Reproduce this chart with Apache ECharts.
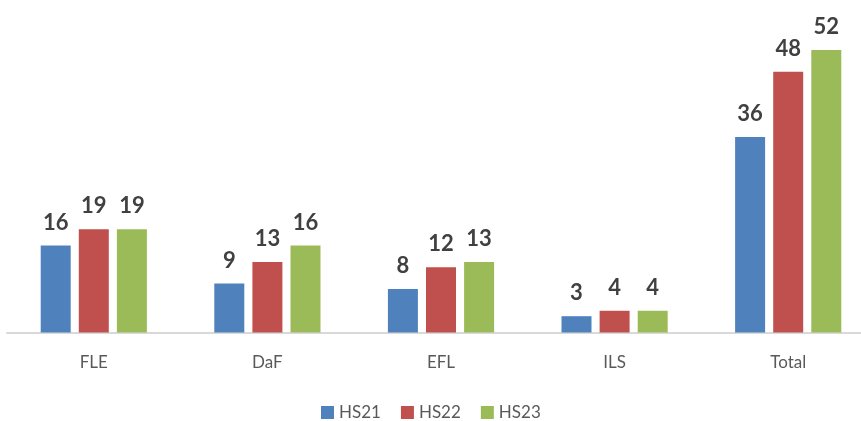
<!DOCTYPE html>
<html>
<head>
<meta charset="utf-8">
<script src="https://cdn.jsdelivr.net/npm/echarts@6/dist/echarts.min.js"></script>
<style>html,body{margin:0;padding:0;background:#fff}#c{width:861px;height:421px}</style>
</head>
<body>
<div id="c"></div>
<script>
const categories = ['FLE', 'DaF', 'EFL', 'ILS', 'Total'];
const seriesNames = ['HS21', 'HS22', 'HS23'];
const hs21 = [16, 9, 8, 3, 36];
const hs22 = [19, 13, 12, 4, 48];
const hs23 = [19, 16, 13, 4, 52];
const colors = ['#4f81bd', '#c0504d', '#9bbb59'];

const chart = echarts.init(document.getElementById('c'));
const dataSets = [hs21, hs22, hs23];
chart.setOption({
  animation: false,
  textStyle: { fontFamily: 'Lato' },
  grid: { left: 7, width: 868, top: 50, height: 282.5, containLabel: false, outerBoundsMode: 'none' },
  legend: {
    left: 316, top: 399,
    itemWidth: 13, itemHeight: 13, itemGap: 20,
    icon: 'rect',
    textStyle: { fontSize: 17, color: '#595959', fontFamily: 'Lato' },
    data: seriesNames
  },
  xAxis: {
    type: 'category', data: categories,
    axisLine: { lineStyle: { color: '#d9d9d9', width: 2 } },
    axisTick: { show: false },
    axisLabel: { fontSize: 17, color: '#595959', margin: 22, fontFamily: 'Lato' }
  },
  yAxis: { type: 'value', min: 0, max: 52, show: false, splitLine: { show: false } },
  series: dataSets.map((d, i) => ({
    name: seriesNames[i], type: 'bar', data: d,
    barWidth: 30, barGap: '27%',
    itemStyle: { color: colors[i] },
    label: { show: true, position: 'top', distance: 12, fontSize: 22, fontWeight: 'bold', color: '#404040', fontFamily: 'Lato' }
  }))
});
</script>
</body>
</html>
